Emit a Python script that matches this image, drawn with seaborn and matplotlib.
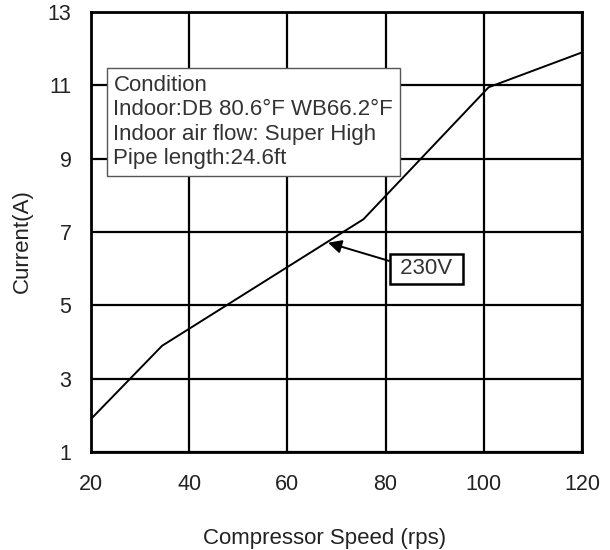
import matplotlib
matplotlib.use("Agg")
import matplotlib.pyplot as plt
import seaborn as sns
import pandas as pd

# data
speed = [20, 34.5, 75.5, 101, 120]
current = [1.9, 3.9, 7.35, 10.95, 11.9]
x_ticks = [20, 40, 60, 80, 100, 120]
y_ticks = [1, 3, 5, 7, 9, 11, 13]
condition_lines = ["Condition",
                   "Indoor:DB 80.6°F WB66.2°F",
                   "Indoor air flow: Super High",
                   "Pipe length:24.6ft"]
series_label = "230V"

df = pd.DataFrame({"speed": speed, "current": current})

sns.set_style("white")
plt.rcParams['font.family'] = ['Liberation Sans', 'DejaVu Sans']

fig, ax = plt.subplots(figsize=(6.1, 5.5), dpi=100)
fig.subplots_adjust(left=0.149, right=0.954, top=0.978, bottom=0.178)

sns.lineplot(data=df, x="speed", y="current", ax=ax, color="black", lw=1.4)

ax.set_xlim(20, 120)
ax.set_ylim(1, 13)
ax.set_xticks(x_ticks)
ax.set_yticks(y_ticks)
ax.grid(True, color="black", lw=1.6)
for sp in ax.spines.values():
    sp.set_color("black")
    sp.set_linewidth(2)
ax.tick_params(axis="x", length=0, labelsize=15.5, pad=16, colors="#222222")
ax.tick_params(axis="y", length=0, labelsize=15.5, pad=14, colors="#222222")

ax.set_xlabel("Compressor Speed (rps)", fontsize=16, color="#222222")
ax.set_ylabel("Current(A)", fontsize=16, color="#222222")
ax.xaxis.set_label_coords(0.475, -0.172)
ax.yaxis.set_label_coords(-0.118, 0.48)

ax.text(24.6, 10.0, "\n".join(condition_lines), fontsize=16, color="#333333",
        va="center", ha="left", linespacing=1.22,
        bbox=dict(boxstyle="square,pad=0.3", fc="white", ec="#555555", lw=1))

ax.annotate(" " + series_label + " ", xy=(68.3, 6.71), xytext=(81.8, 6.0),
            fontsize=16, color="#333333", va="center", ha="left",
            bbox=dict(boxstyle="square,pad=0.2", fc="white", ec="black", lw=1.8),
            arrowprops=dict(arrowstyle="-|>", color="black", lw=1.4,
                            mutation_scale=20, shrinkA=0, shrinkB=0,
                            relpos=(0, 0.8)))

fig.savefig("out.png", dpi=100)
